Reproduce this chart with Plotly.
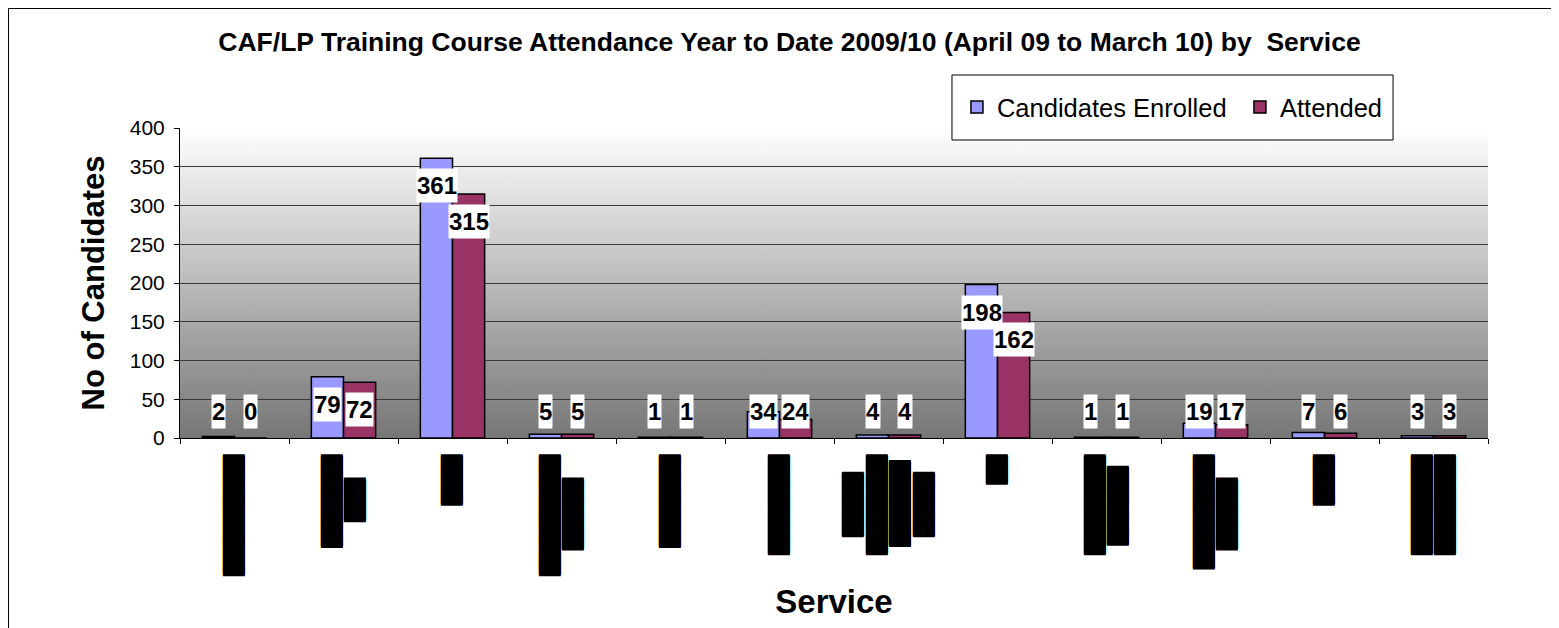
import base64
import plotly.graph_objects as go

# ---------------- data ----------------
services = ["S01", "S02", "S03", "S04", "S05", "S06",
            "S07", "S08", "S09", "S10", "S11", "S12"]
# service names are redacted (blacked out) in the source chart
redacted_labels = [
    "▐████████",
    "▐██████<br>███\u00a0\u00a0\u00a0\u00a0",
    "▐███",
    "▐████████<br>█████\u00a0\u00a0\u00a0\u00a0",
    "▐██████",
    "███████",
    "▐████\u00a0\u00a0\u00a0<br>███████<br>██████\u00a0<br>▐████\u00a0\u00a0\u00a0",
    "██",
    "███████<br>▐█████\u00a0\u00a0",
    "████████<br>█████\u00a0\u00a0\u00a0\u00a0",
    "▐███",
    "███████<br>███████",
]
enrolled = [2, 79, 361, 5, 1, 34, 4, 198, 1, 19, 7, 3]
attended = [0, 72, 315, 5, 1, 24, 4, 162, 1, 17, 6, 3]

title_text = "CAF/LP Training Course Attendance Year to Date 2009/10 (April 09 to March 10) by  Service"

# ---------------- figure ----------------
fig = go.Figure()
fig.add_trace(go.Bar(x=services, y=enrolled, name="Candidates Enrolled",
                     marker=dict(color="#9999FF", line=dict(color="black", width=1.5))))
fig.add_trace(go.Bar(x=services, y=attended, name="Attended",
                     marker=dict(color="#993366", line=dict(color="black", width=1.5))))

# data labels (white boxes)
label_floor = 70
annotations = []
for series, shift in ((enrolled, -16), (attended, 16)):
    for cat, v in zip(services, series):
        annotations.append(dict(
            x=cat, y=max(v, label_floor), xref="x", yref="y",
            text=f"<b>{v}</b>", showarrow=False, yanchor="top", xanchor="center",
            xshift=shift, yshift=-10, bgcolor="white", borderpad=0, height=33,
            valign="middle",
            font=dict(family="Liberation Sans, Arial", size=24, color="black")))

# gradient plot background
svg = ('<svg xmlns="http://www.w3.org/2000/svg" width="10" height="100" preserveAspectRatio="none">'
       '<defs><linearGradient id="g" x1="0" y1="0" x2="0" y2="1">'
       '<stop offset="0" stop-color="#ffffff"/><stop offset="1" stop-color="#767676"/>'
       '</linearGradient></defs><rect width="10" height="100" fill="url(#g)"/></svg>')
src = "data:image/svg+xml;base64," + base64.b64encode(svg.encode()).decode()

fig.update_layout(
    width=1551, height=620,
    margin=dict(l=172, r=71, t=120, b=190),
    paper_bgcolor="white", plot_bgcolor="rgba(0,0,0,0)",
    barmode="group", bargap=0.41, bargroupgap=0,
    font=dict(family="Liberation Sans, Arial", color="black"),
    title=dict(text=f"<b>{title_text}</b>", x=0.466, xanchor="center", xref="paper",
               y=1 - 34 / 620, yanchor="middle", yref="container",
               font=dict(size=26.5, color="black")),
    showlegend=True,
    legend=dict(orientation="h", x=0.594, xanchor="left", y=1.066, yanchor="middle",
                bgcolor="rgba(0,0,0,0)", borderwidth=0, entrywidth=238,
                font=dict(size=25.5, color="black")),
    images=[dict(source=src, xref="paper", yref="paper", x=0, y=1, sizex=1, sizey=1,
                 xanchor="left", yanchor="top", sizing="stretch", layer="below")],
    shapes=[
        # legend frame
        dict(type="rect", xref="paper", yref="paper", x0=0.5902, x1=0.9274, y0=0.9613, y1=1.171,
             line=dict(color="black", width=1), fillcolor="white", layer="above"),
        # outer chart frame
        dict(type="rect", xref="paper", yref="paper", x0=-0.1311, x1=1.2, y0=-1.0, y1=1.3855,
             line=dict(color="black", width=1), fillcolor="rgba(0,0,0,0)", layer="below"),
    ],
    annotations=annotations,
    xaxis=dict(
        type="category", tickmode="array", tickvals=services, ticktext=redacted_labels,
        tickangle=-90,
        tickfont=dict(family="DejaVu Sans", size=18.35, color="black",
                      shadow="1px 0px 0px #000, -1px 0px 0px #000"),
        ticks="outside", ticklen=5, tickcolor="black", tickson="boundaries",
        ticklabelstandoff=9,
        showline=True, linecolor="black", linewidth=1, showgrid=False,
        range=[-0.5, 11.5],
        title=dict(text="<b>Service</b>", font=dict(size=33, color="black"), standoff=8),
    ),
    yaxis=dict(
        range=[0, 400], dtick=50, tick0=0,
        ticks="outside", ticklen=5, tickcolor="black", ticklabelstandoff=5,
        showline=True, linecolor="black", linewidth=1,
        showgrid=False, zeroline=False,
        minor=dict(tickvals=[50, 100, 150, 200, 250, 300, 350], showgrid=True,
                   gridcolor="#3a3a3a", gridwidth=1, ticks=""),
        tickfont=dict(size=21, color="black"),
        title=dict(text="<b>No of Candidates</b>", font=dict(size=31, color="black"), standoff=15),
    ),
)

fig.write_html("out.html")
